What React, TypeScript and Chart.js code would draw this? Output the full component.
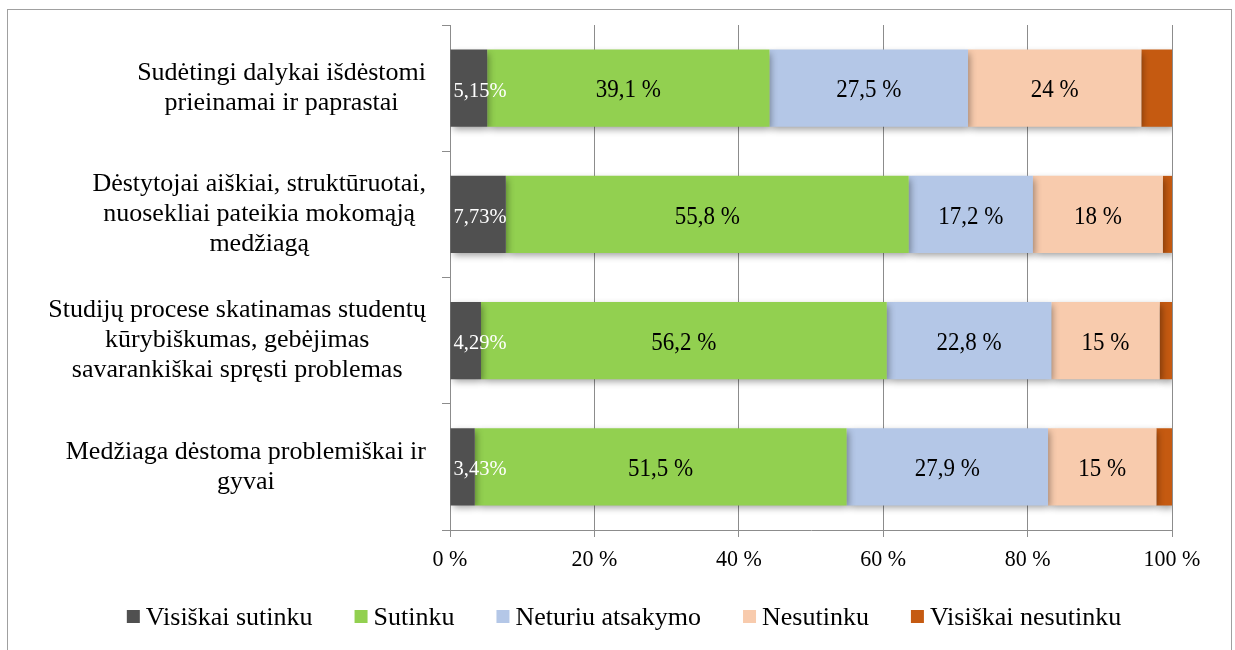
import React, { useEffect, useRef } from "react";
import { Chart, registerables } from "chart.js";

Chart.register(...registerables);

const FONT = "'Liberation Serif', 'Times New Roman', serif";

const categoryLines: string[][] = [
  ["Sudėtingi dalykai išdėstomi", "prieinamai ir paprastai"],
  ["Dėstytojai aiškiai, struktūruotai,", "nuosekliai pateikia mokomąją", "medžiagą"],
  ["Studijų procese skatinamas studentų", "kūrybiškumas, gebėjimas", "savarankiškai spręsti problemas"],
  ["Medžiaga dėstoma problemiškai ir", "gyvai"],
];

const seriesNames = ["Visiškai sutinku", "Sutinku", "Neturiu atsakymo", "Nesutinku", "Visiškai nesutinku"];

const visiskaiSutinku = [5.15, 7.73, 4.29, 3.43];
const sutinku = [39.1, 55.8, 56.2, 51.5];
const neturiuAtsakymo = [27.5, 17.2, 22.8, 27.9];
const nesutinku = [24, 18, 15, 15];
const visiskaiNesutinku = [4.25, 1.27, 1.71, 2.17];

const seriesColors = ["#505050", "#92D050", "#B4C7E7", "#F8CBAD", "#C55A11"];
const xTickValues = [0, 20, 40, 60, 80, 100];
const xTickLabels = ["0 %", "20 %", "40 %", "60 %", "80 %", "100 %"];

const GRID = "#8c8c8c";

const fmt = (v: number) => String(v).replace(".", ",");

function tallText(ctx: CanvasRenderingContext2D, text: string, x: number, y: number, sy: number) {
  ctx.save();
  ctx.translate(x, y);
  ctx.scale(1, sy);
  ctx.fillText(text, 0, 0);
  ctx.restore();
}

const customPlugin = {
  id: "custom",
  beforeDatasetsDraw(chart: any) {
    const ctx = chart.ctx;
    ctx.save();
    ctx.shadowColor = "rgba(0,0,0,0.38)";
    ctx.shadowBlur = 7;
    ctx.shadowOffsetX = 2;
    ctx.shadowOffsetY = 3;
  },
  afterDatasetsDraw(chart: any) {
    const ctx = chart.ctx;
    ctx.restore();
    ctx.save();
    ctx.textBaseline = "alphabetic";
    chart.data.datasets.forEach((ds: any, di: number) => {
      if (di === 4) return;
      const meta = chart.getDatasetMeta(di);
      meta.data.forEach((el: any, i: number) => {
        const { x, base, y } = el.getProps(["x", "base", "y"], true);
        const v = ds.data[i];
        if (di === 0) {
          ctx.font = `20.5px ${FONT}`;
          ctx.fillStyle = "#ffffff";
          ctx.textAlign = "left";
          tallText(ctx, fmt(v) + "%", Math.min(x, base) + 3, y + 8.5, 1.04);
        } else {
          ctx.font = `23px ${FONT}`;
          ctx.fillStyle = "#000000";
          ctx.textAlign = "center";
          tallText(ctx, fmt(v) + " %", (x + base) / 2, y + 9.3, 1.1);
        }
      });
    });
    ctx.restore();
  },
  afterDraw(chart: any) {
    const ctx = chart.ctx;
    const yScale = chart.scales.y;
    const xScale = chart.scales.x;
    ctx.save();
    // category labels
    ctx.font = `26px ${FONT}`;
    ctx.fillStyle = "#000000";
    ctx.textAlign = "center";
    ctx.textBaseline = "middle";
    const lh = 30;
    categoryLines.forEach((lines, i) => {
      const maxW = Math.max(...lines.map((l) => ctx.measureText(l).width));
      const cx = 426 - maxW / 2;
      const yc = yScale.getPixelForValue(i);
      const y0 = yc - ((lines.length - 1) * lh) / 2;
      lines.forEach((l, j) => ctx.fillText(l, cx, y0 + j * lh));
    });
    // x tick labels
    ctx.font = `22px ${FONT}`;
    ctx.textAlign = "center";
    ctx.textBaseline = "alphabetic";
    xTickValues.forEach((v, i) => {
      tallText(ctx, xTickLabels[i], xScale.getPixelForValue(v), chart.chartArea.bottom + 35.5, 1.06);
    });
    // legend
    ctx.font = `26px ${FONT}`;
    ctx.textAlign = "left";
    const box = 13;
    const gapBT = 6;
    const gapItems = 42;
    const widths = seriesNames.map((n) => box + gapBT + ctx.measureText(n).width);
    const total = widths.reduce((a, b) => a + b, 0) + gapItems * (seriesNames.length - 1);
    let lx = 624 - total / 2;
    const boxTop = 610;
    seriesNames.forEach((n, i) => {
      ctx.fillStyle = seriesColors[i];
      ctx.fillRect(lx, boxTop, box, box);
      ctx.fillStyle = "#000000";
      ctx.fillText(n, lx + box + gapBT, 624.5);
      lx += widths[i] + gapItems;
    });
    ctx.restore();
  },
};

export default function App() {
  const ref = useRef<HTMLCanvasElement>(null);
  useEffect(() => {
    if (!ref.current) return;
    const allSeries = [visiskaiSutinku, sutinku, neturiuAtsakymo, nesutinku, visiskaiNesutinku];
    const chart = new Chart(ref.current, {
      type: "bar",
      data: {
        labels: categoryLines.map((l) => l.join(" ")),
        datasets: allSeries.map((d, i) => ({
          label: seriesNames[i],
          data: d,
          backgroundColor: seriesColors[i],
          borderWidth: 0,
          categoryPercentage: 1,
          barPercentage: 0.61,
        })),
      },
      options: {
        indexAxis: "y",
        responsive: false,
        animation: false,
        layout: { padding: { top: 25, right: 63, bottom: 60, left: 0 } },
        scales: {
          x: {
            stacked: true,
            min: 0,
            max: 100,
            afterBuildTicks: (s: any) => {
              s.ticks = xTickValues.map((v) => ({ value: v }));
            },
            ticks: { display: false },
            grid: { color: GRID, tickLength: 7 },
            border: { color: GRID },
            afterFit: (s: any) => {
              s.height = 60;
            },
          },
          y: {
            stacked: true,
            ticks: { display: false },
            grid: { drawOnChartArea: false, tickLength: 8, color: GRID, offset: true },
            border: { color: GRID },
            afterFit: (s: any) => {
              s.width = 450;
            },
          },
        },
        plugins: {
          legend: { display: false },
          tooltip: { enabled: false },
        },
      },
      plugins: [customPlugin],
    } as any);
    return () => chart.destroy();
  }, []);

  return (
    <div style={{ position: "absolute", left: 0, top: 0, width: 1235, height: 650, overflow: "hidden", background: "#fff" }}>
      <canvas ref={ref} width={1235} height={650} style={{ position: "absolute", left: 0, top: 0 }} />
      <div
        style={{
          position: "absolute",
          left: 7,
          top: 9,
          width: 1223,
          height: 700,
          border: "1px solid #a0a0a0",
          pointerEvents: "none",
        }}
      />
    </div>
  );
}
